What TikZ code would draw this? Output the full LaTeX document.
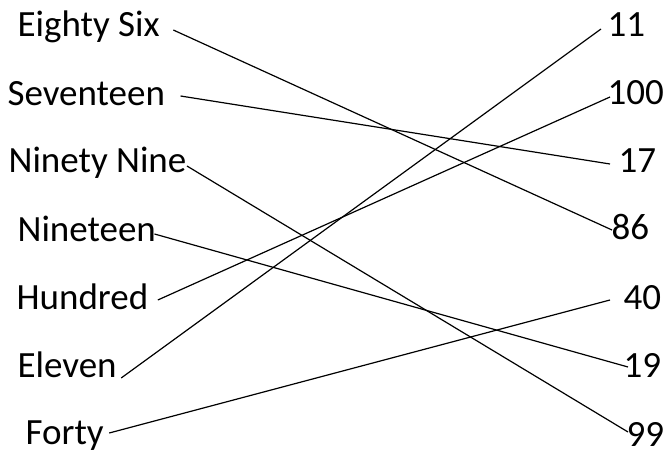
\documentclass[tikz,border=0pt]{standalone}
\usepackage{fontspec}
\setmainfont{Carlito}
\begin{document}
\begin{tikzpicture}[x=1pt, y=1pt, line width=1.2pt,
                    lbl/.style={inner sep=0pt, anchor=base west, font=\fontsize{37}{44}\selectfont}]
\useasboundingbox (0,0) rectangle (667,455);
% words
\node[lbl] (es) at (17,418) {Eighty Six};
\node[lbl] (sv) at (7,349)  {Seventeen};
\node[lbl] (nn) at (8,282)  {Ninety Nine};
\node[lbl] (nt) at (17,213) {Nineteen};
\node[lbl] (hu) at (16,145) {Hundred};
\node[lbl] (el) at (17,77)  {Eleven};
\node[lbl] (fo) at (25,10)  {Forty};
% numbers
\node[lbl] (n11)  at (607,418) {11};
\node[lbl] (n100) at (607,350) {100};
\node[lbl] (n17)  at (618,282) {17};
\node[lbl] (n86)  at (611,215) {86};
\node[lbl] (n40)  at (623,145) {40};
\node[lbl] (n19)  at (623,77)  {19};
\node[lbl] (n99)  at (626,8)   {99};
% matches
\draw ([shift={(13,7)}]es.base east)  -- ([shift={(1,10)}]n86.base west);
\draw ([shift={(15,10)}]sv.base east) -- ([shift={(-8,9)}]n17.base west);
\draw ([shift={(0,7)}]nn.base east)   -- ([shift={(2,15)}]n99.base west);
\draw ([shift={(-2,8)}]nt.base east)  -- ([shift={(5,11)}]n19.base west);
\draw ([shift={(9,10)}]hu.base east)  -- ([shift={(3,8)}]n100.base west);
\draw ([shift={(4,0)}]el.base east)   -- ([shift={(-6,8)}]n11.base west);
\draw ([shift={(5,12)}]fo.base east)  -- ([shift={(-13,10)}]n40.base west);
\end{tikzpicture}
\end{document}
